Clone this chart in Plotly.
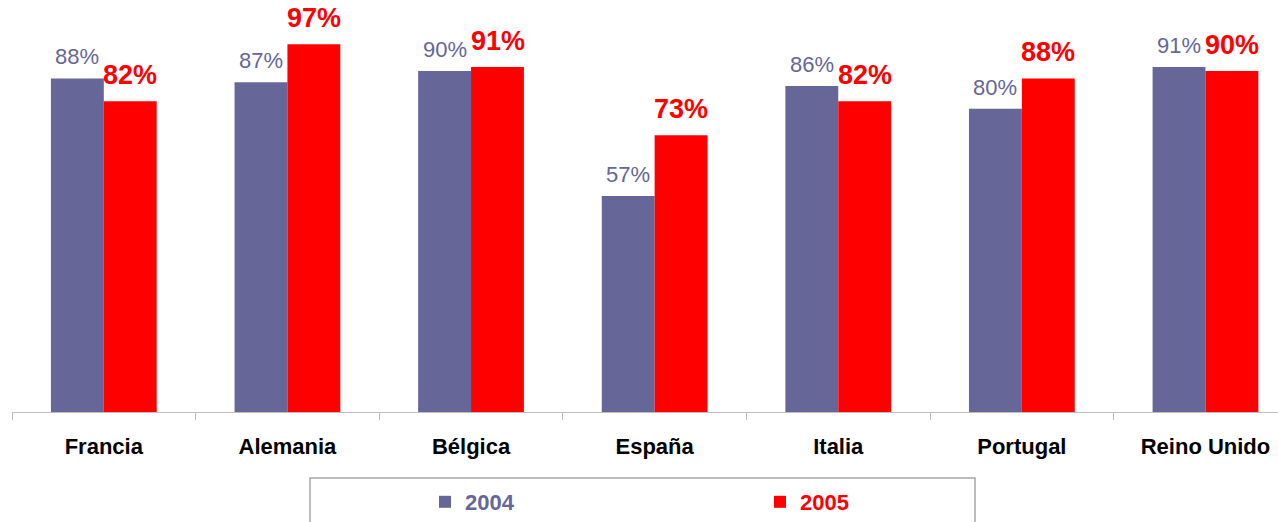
import plotly.graph_objects as go

paises = ["Francia", "Alemania", "Bélgica", "España", "Italia", "Portugal", "Reino Unido"]
valores_2004 = [88, 87, 90, 57, 86, 80, 91]
valores_2005 = [82, 97, 91, 73, 82, 88, 90]

COLOR_2004 = "#666699"
COLOR_2005 = "#FF0000"
FONT = "Liberation Sans, Arial, sans-serif"

fig = go.Figure()
fig.add_trace(go.Bar(
    x=paises, y=valores_2004,
    name="<span style='color:%s'><b>2004</b></span>" % COLOR_2004,
    marker_color=COLOR_2004, marker_line_width=0,
))
fig.add_trace(go.Bar(
    x=paises, y=valores_2005,
    name="<span style='color:%s'><b>2005</b></span>" % COLOR_2005,
    marker_color=COLOR_2005, marker_line_width=0,
))

# value labels above each bar
for p, v in zip(paises, valores_2004):
    fig.add_annotation(x=p, y=v, text="%d%%" % v, showarrow=False,
                       xshift=-26.5, yshift=7, yanchor="bottom",
                       font=dict(family=FONT, size=22, color=COLOR_2004))
for p, v in zip(paises, valores_2005):
    fig.add_annotation(x=p, y=v, text="<b>%d%%</b>" % v, showarrow=False,
                       xshift=26.5, yshift=9, yanchor="bottom",
                       font=dict(family=FONT, size=27, color=COLOR_2005))

# legend frame
fig.add_shape(type="rect", xref="paper", yref="paper",
              x0=(310 - 12) / 1266, x1=(975 - 12) / 1266,
              y0=-0.35, y1=(412 - 478) / 379,
              line=dict(color="#A6A6A6", width=1.5), fillcolor="rgba(0,0,0,0)")

fig.update_layout(
    width=1278, height=522,
    margin=dict(l=12, r=0, t=33, b=110, autoexpand=False),
    plot_bgcolor="white", paper_bgcolor="white",
    barmode="group", bargap=0.424, bargroupgap=0,
    font=dict(family=FONT),
    showlegend=True,
    legend=dict(orientation="h", x=(425 - 12) / 1266, xanchor="left",
                y=(412 - 502) / 379, yanchor="middle",
                entrywidth=290, entrywidthmode="pixels",
                font=dict(family=FONT, size=22),
                bgcolor="rgba(0,0,0,0)"),
    xaxis=dict(range=[-0.5, 6.395], showline=True, linecolor="#BFBFBF", linewidth=1,
               ticks="outside", tickson="boundaries", ticklen=7, tickcolor="#BFBFBF",
               tickfont=dict(family=FONT, size=22, color="black", weight="bold"),
               ticklabelstandoff=15, automargin=False,
               showgrid=False, zeroline=False),
    yaxis=dict(range=[0, 100], visible=False, showgrid=False, zeroline=False),
)

fig.write_html("out.html", config={"displayModeBar": False},
               post_script="document.body.style.margin='0';")
